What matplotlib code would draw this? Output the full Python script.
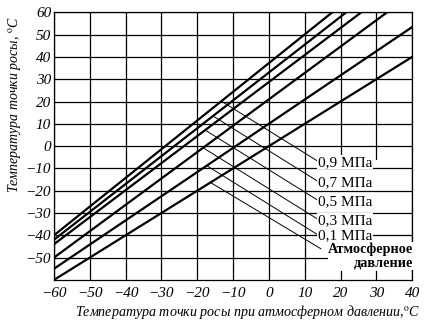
import numpy as np
import matplotlib.pyplot as plt
from matplotlib.patches import Rectangle

plt.rcParams['font.family'] = 'Liberation Serif'
plt.rcParams['mathtext.fontset'] = 'stix'

# Кривые: точка росы при давлении vs при атмосферном давлении
labels = ["0,9 МПа", "0,7 МПа", "0,5 МПа", "0,3 МПа", "0,1 МПа", "Атмосферное\nдавление"]
x_start = [-60, -60, -60, -60, -60, -60]
y_start = [-40, -42, -44, -50, -55, -60]
x_end = [17.7, 21.6, 25.8, 33.0, 40.0, 40.0]
y_end = [60, 60, 60, 60, 53.4, 40]

# выноски от кривых к подписям
lead_x0 = [-13.3, -15.6, -17.7, -18.4, -17.3, -16.3]
lead_y0 = [20.2, 13.5, 7.1, -0.7, -8.8, -16.3]
lead_x1 = [13.4, 13.4, 13.4, 13.4, 13.4, 14.5]
lead_y1 = [-6.5, -15.5, -24.0, -32.5, -39.5, -46.0]

xticks = list(range(-60, 41, 10))
yticks = list(range(-50, 61, 10))

fig = plt.figure(figsize=(4.28, 3.24), dpi=100)
ax = fig.add_axes([0.126, 0.136, 0.837, 0.826])
ax.set_xlim(-60, 40)
ax.set_ylim(-60, 60)

# сетка
for xv in xticks:
    ax.axvline(xv, color='black', lw=0.9, zorder=1)
for yv in yticks:
    ax.axhline(yv, color='black', lw=0.9, zorder=3)

# белое поле под подписями
ax.add_patch(Rectangle((12.5, -56), 24.5, 50, facecolor='white', edgecolor='none', zorder=2))

for i in range(len(labels)):
    ax.plot([x_start[i], x_end[i]], [y_start[i], y_end[i]], color='black', lw=1.6, zorder=5)
    ax.plot([lead_x0[i], lead_x1[i]], [lead_y0[i], lead_y1[i]], color='black', lw=0.7, zorder=4)

for i, lab in enumerate(labels):
    if i < 5:
        ax.text(lead_x1[i] + 0.3, lead_y1[i] - 0.8, lab, fontsize=11, ha='left', va='center',
                bbox=dict(facecolor='white', edgecolor='none', pad=0.3), zorder=6)
    else:
        ax.text(40.3, lead_y1[i] - 3.3, lab, fontsize=10.3, fontweight='bold', ha='right', va='center',
                linespacing=1.0, bbox=dict(facecolor='white', edgecolor='none', pad=0.3), zorder=6)

ax.set_xticks(xticks)
ax.set_yticks(yticks)
ax.tick_params(axis='y', length=0, pad=2, labelsize=11)
ax.tick_params(axis='x', length=0, pad=5, labelsize=11)
for t in ax.get_xticklabels() + ax.get_yticklabels():
    t.set_fontstyle('italic')
for s in ax.spines.values():
    s.set_linewidth(0.9)

fig.text(0.578, 0.038, r"Температура точки росы при атмосферном давлении,$^{\rm o}$C",
         ha='center', va='center', fontsize=10.1, style='italic')
fig.text(0.033, 0.677, r"Температура точки росы, $^{\rm o}$C", rotation=90,
         ha='center', va='center', fontsize=10, style='italic')

fig.savefig('out.png', dpi=100)
